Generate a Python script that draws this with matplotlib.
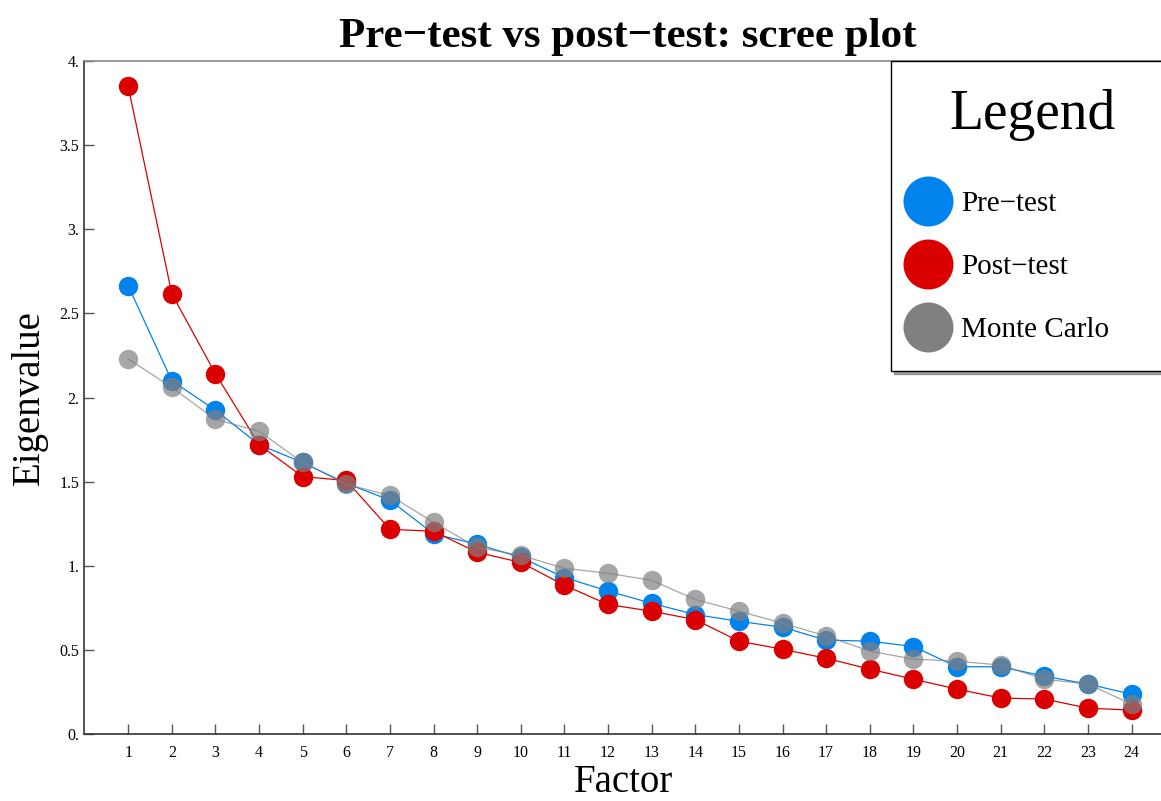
import matplotlib
matplotlib.use('Agg')
import matplotlib.pyplot as plt
from matplotlib.lines import Line2D

# eigenvalues
factors = list(range(1, 25))
pre_test = [2.665, 2.10, 1.925, 1.72, 1.614, 1.49, 1.39, 1.19, 1.128, 1.05, 0.93, 0.85,
            0.777, 0.71, 0.67, 0.635, 0.558, 0.552, 0.52, 0.40, 0.40, 0.344, 0.297, 0.237]
post_test = [3.85, 2.617, 2.142, 1.72, 1.53, 1.507, 1.217, 1.205, 1.08, 1.02, 0.884, 0.77,
             0.73, 0.68, 0.552, 0.504, 0.45, 0.386, 0.326, 0.267, 0.214, 0.208, 0.154, 0.142]
monte_carlo = [2.23, 2.06, 1.87, 1.80, 1.614, 1.484, 1.418, 1.258, 1.11, 1.062, 0.985, 0.955,
               0.914, 0.80, 0.73, 0.659, 0.582, 0.493, 0.445, 0.433, 0.41, 0.326, 0.297, 0.178]

series_names = ['Pre\u2212test', 'Post\u2212test', 'Monte Carlo']
yticks = [0, 0.5, 1, 1.5, 2, 2.5, 3, 3.5, 4]
ytick_labels = ['0.', '0.5', '1.', '1.5', '2.', '2.5', '3.', '3.5', '4.']

blue = '#0083ec'
red = '#db0000'
gray = '#808080'

plt.rcParams['font.family'] = ['Liberation Serif', 'DejaVu Serif']

fig = plt.figure(figsize=(11.61, 8.01), dpi=100)
ax = fig.add_axes([0.0724, 0.0836, 0.93, 0.8402])

ax.plot(factors, pre_test, color=blue, lw=0.9, marker='o', ms=14, mec='none')
ax.plot(factors, post_test, color=red, lw=0.9, marker='o', ms=14, mec='none')
ax.plot(factors, monte_carlo, color=gray, lw=0.9, marker='o', ms=14, mec='none', alpha=0.7)

ax.set_xlim(-0.011, 24.74)
ax.set_ylim(0, 4)
ax.set_xticks(factors)
ax.set_yticks(yticks)
ax.set_yticklabels(ytick_labels)
ax.tick_params(direction='in', length=7, width=1, labelsize=11.5, colors='#555555', labelcolor='black')
ax.tick_params(axis='x', pad=8)

for side in ['left', 'bottom']:
    ax.spines[side].set_color('#333333')
    ax.spines[side].set_linewidth(1.2)
ax.spines['top'].set_color('#888888')
ax.spines['top'].set_linewidth(1.2)
ax.spines['right'].set_visible(False)

ax.set_xlabel('Factor', fontsize=28, labelpad=2)
ax.set_ylabel('Eigenvalue', fontsize=28, labelpad=8)
ax.set_title('Pre\u2212test vs post\u2212test: scree plot', fontsize=31, fontweight='bold',
             pad=10, x=0.504)

# legend: big dots, boxed, right side runs off the figure like the original
handles = [Line2D([], [], ls='none', marker='o', ms=36, mec='none', color=c)
           for c in [blue, red, gray]]
leg = ax.legend(handles, series_names, loc='upper left',
                bbox_to_anchor=(0.7474, 0.5, 0.262, 0.5), mode='expand',
                borderaxespad=0, fontsize=21, title='Legend', title_fontsize=40,
                frameon=True, fancybox=False, shadow=True, edgecolor='black',
                framealpha=1, handlelength=0.6, handletextpad=0.84, labelspacing=1.26,
                borderpad=0.95, alignment='center')
leg.get_frame().set_linewidth(1.0)
leg._legend_box.sep = 36

plt.savefig('out.png', dpi=100)
